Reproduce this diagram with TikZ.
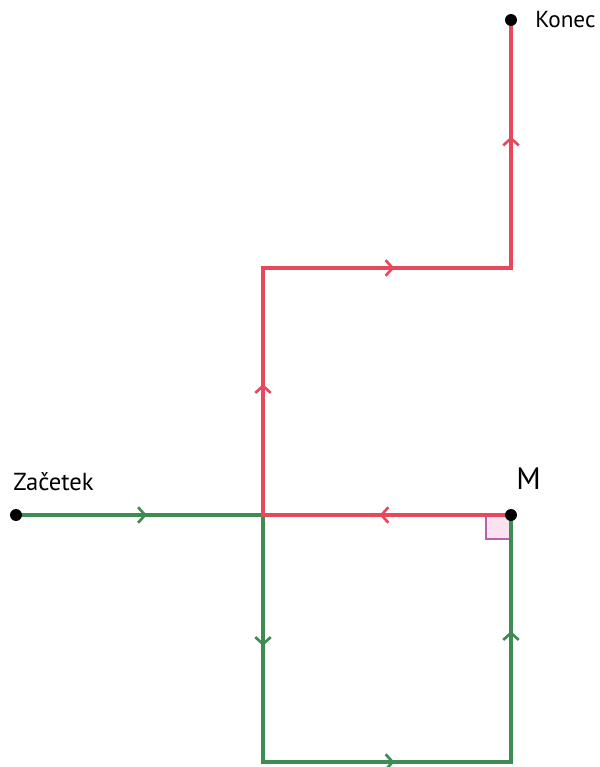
\documentclass[tikz,border=0pt]{standalone}
\usepackage{fontspec}
\setmainfont{PT Sans}
\usetikzlibrary{arrows.meta,decorations.markings}
\definecolor{pathred}{RGB}{232,72,92}
\definecolor{pathgreen}{RGB}{62,140,82}
\definecolor{anglefill}{RGB}{250,226,240}
\definecolor{angleline}{RGB}{185,95,175}
\begin{document}
\begin{tikzpicture}[x=0.025cm,y=-0.025cm]

  \tikzstyle{route} = [line width=2.2pt, line cap=rect, postaction={decorate},
    decoration={markings, mark=at position 0.53 with {\arrow{Straight Barb[length=5pt,width=11pt,line width=1.9pt]}}}]
  \tikzstyle{point} = [circle, fill=black, inner sep=0pt, minimum size=8.5pt]
  \tikzstyle{placename} = [font=\fontsize{17.5}{20}\selectfont, anchor=base west, inner sep=0pt]

  \useasboundingbox (0,0) rectangle (599,767);

  \coordinate (S) at (16,515);
  \coordinate (J) at (263,515);
  \coordinate (M) at (511,515);
  \coordinate (K) at (511,20);
  \coordinate (B1) at (263,762);
  \coordinate (B2) at (511,762);
  \coordinate (T1) at (263,268);
  \coordinate (T2) at (511,268);

  % right angle at M
  \draw[angleline, fill=anglefill, line width=1.2pt] (486,515) rectangle (511,539);

  \draw[route, pathgreen] (S) -- (J);
  \draw[route, pathgreen] (J) -- (B1);
  \draw[route, pathgreen] (B1) -- (B2);
  \draw[route, pathgreen] (B2) -- (M);

  \draw[route, pathred] (M) -- (J);
  \draw[route, pathred] (J) -- (T1);
  \draw[route, pathred] (T1) -- (T2);
  \draw[route, pathred] (T2) -- (K);

  \node[point] (Sdot) at (S) {};
  \node[point] (Mdot) at (M) {};
  \node[point] (Kdot) at (K) {};

  \node[placename] (Slabel) at (13,490) {Začetek};
  \node[placename, font=\fontsize{22}{25}\selectfont] (Mlabel) at (516,489) {M};
  \node[placename, font=\fontsize{16.5}{19}\selectfont] (Klabel) at (535,28) {Konec};

\end{tikzpicture}
\end{document}
